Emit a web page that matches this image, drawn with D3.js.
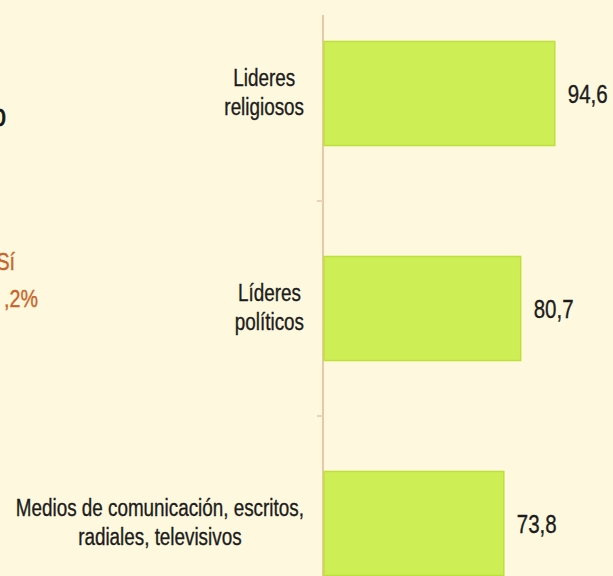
<!DOCTYPE html>
<html>
<head>
<meta charset="utf-8">
<script src="https://cdn.jsdelivr.net/npm/d3@7"></script>
<style>
  html, body { margin: 0; padding: 0; background: #FEF9DE; overflow: hidden; }
  svg { display: block; }
</style>
</head>
<body>
<svg id="chart" width="613" height="576"></svg>
<script>
// ---- data ----
const categories = [
  ["Lideres", "religiosos"],
  ["Líderes", "políticos"],
  ["Medios de comunicación, escritos,", "radiales, televisivos"]
];
const categoryKeys = ["Lideres religiosos", "Líderes políticos", "Medios de comunicación, escritos, radiales, televisivos"];
const values = [94.6, 80.7, 73.8];
const valueLabels = ["94,6", "80,7", "73,8"];
// partially visible neighbouring chart texts (cropped at left edge)
const leftTexts = ["o", "Sí", ",2%"];

// ---- layout ----
const W = 613, H = 576;
const SX = 0.82; // horizontal condensing of the lettering
const FONT = "'Liberation Sans', Arial, sans-serif";
const svg = d3.select("#chart");
svg.append("rect").attr("width", W).attr("height", H).attr("fill", "#FEF9DE");

const x = d3.scaleLinear().domain([0, 100]).range([323, 568]);
const y = d3.scaleBand().domain(categoryKeys).range([-14, 631])
  .paddingInner(0.516).paddingOuter(0.258);

// condensed text helper: anchor point (px,py), text-anchor applied before scaling
function ctext(px, py, str, size, color, anchor, sw) {
  const g = svg.append("g").attr("transform", `translate(${px},${py}) scale(${SX},1)`);
  return g.append("text")
    .attr("x", 0).attr("y", 0)
    .attr("font-family", FONT)
    .attr("font-size", size)
    .attr("fill", color)
    .attr("stroke", color).attr("stroke-width", sw == null ? 0.35 : sw)
    .attr("text-anchor", anchor || "start")
    .text(str);
}

// axis line
svg.append("line")
  .attr("x1", x(0)).attr("x2", x(0))
  .attr("y1", 15).attr("y2", H)
  .attr("stroke", "#E8C8A6").attr("stroke-width", 2);

// ticks at band boundaries
const step = y.step();
const boundaries = categoryKeys.slice(0, -1).map(k => y(k) + y.bandwidth() + (step - y.bandwidth()) / 2);
svg.selectAll("line.tick").data(boundaries).enter().append("line")
  .attr("class", "tick")
  .attr("x1", x(0) - 6).attr("x2", x(0))
  .attr("y1", d => d).attr("y2", d => d)
  .attr("stroke", "#EAD3B8").attr("stroke-width", 2);

// bars
svg.selectAll("rect.bar").data(values).enter().append("rect")
  .attr("class", "bar")
  .attr("x", x(0) + 1)
  .attr("y", (d, i) => y(categoryKeys[i]))
  .attr("width", d => x(d) - x(0) - 1)
  .attr("height", y.bandwidth())
  .attr("fill", "#CDEE55")
  .attr("stroke", "#BEE03C")
  .attr("stroke-width", 1.5);

// value labels
values.forEach((v, i) => {
  ctext(x(v) + 13, y(categoryKeys[i]) + y.bandwidth() / 2 + 9, valueLabels[i], 25, "#1c1c1c", "start");
});

// category labels (wrapped, centered lines, block right-aligned)
const labelRight = 304;
const lineH = 29;
categories.forEach((lines, i) => {
  const cy = y(categoryKeys[i]) + y.bandwidth() / 2;
  const tmp = lines.map(ln => svg.append("text").attr("font-family", FONT).attr("font-size", 23).text(ln));
  const maxW = d3.max(tmp, t => t.node().getComputedTextLength()) * SX;
  tmp.forEach(t => t.remove());
  lines.forEach((ln, j) => {
    ctext(labelRight - maxW / 2, cy + (j - (lines.length - 1) / 2) * lineH + 7, ln, 23, "#1c1c1c", "middle");
  });
});

// cropped texts from neighbouring chart on the left
ctext(6, 126, leftTexts[0], 32, "#151515", "end", 0.8);
ctext(15, 270, leftTexts[1], 24, "#C8642A", "end", 0.4);
ctext(38, 307, leftTexts[2], 24, "#C8642A", "end", 0.4);
</script>
</body>
</html>
